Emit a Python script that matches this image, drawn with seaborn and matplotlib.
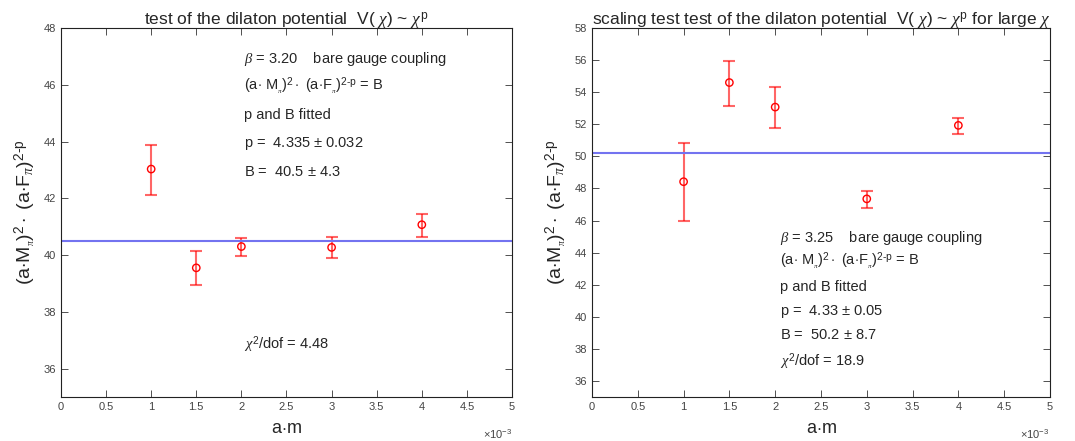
import numpy as np
import pandas as pd
import matplotlib
matplotlib.use("Agg")
import matplotlib.pyplot as plt
import seaborn as sns
from matplotlib.ticker import FuncFormatter, MultipleLocator

# -------------------------------
# DATA
# -------------------------------
am = [0.001, 0.0015, 0.002, 0.003, 0.004]

# beta = 3.20
val_320 = [43.03, 39.55, 40.30, 40.27, 41.07]
lo_320 = [42.12, 38.95, 39.96, 39.88, 40.65]
hi_320 = [43.88, 40.13, 40.60, 40.64, 41.46]
fit_320 = 40.48

# beta = 3.25
val_325 = [48.42, 54.60, 53.07, 47.35, 51.93]
lo_325 = [46.00, 53.15, 51.74, 46.79, 51.38]
hi_325 = [50.84, 55.97, 54.34, 47.83, 52.38]
fit_325 = 50.21

titles = [
    r"test of the dilaton potential  V( $\mathit{\chi}$) ~ $\mathit{\chi}^{\mathrm{p}}$",
    r"scaling test test of the dilaton potential  V( $\mathit{\chi}$) ~ $\mathit{\chi}^{\mathrm{p}}$ for large $\mathit{\chi}$",
]

notes_320 = [
    r"$\mathit{\beta}$ = 3.20    bare gauge coupling",
    r"(a$\cdot$ M$_{_{\pi}}$)$^2\cdot$ (a$\cdot$F$_{_{\pi}}$)$^{2\text{-}\mathrm{p}}$ = B",
    "p and B fitted",
    r"p =  4.335 $\pm$ 0.032",
    r"B =  40.5 $\pm$ 4.3",
]
chi_320 = r"$\mathit{\chi}^2$/dof = 4.48"

notes_325 = [
    r"$\mathit{\beta}$ = 3.25    bare gauge coupling",
    r"(a$\cdot$ M$_{_{\pi}}$)$^2\cdot$ (a$\cdot$F$_{_{\pi}}$)$^{2\text{-}\mathrm{p}}$ = B",
    "p and B fitted",
    r"p =  4.33 $\pm$ 0.05",
    r"B =  50.2 $\pm$ 8.7",
    r"$\mathit{\chi}^2$/dof = 18.9",
]

# -------------------------------
# STYLE
# -------------------------------
sns.set_style("ticks")
plt.rcParams["font.family"] = ["Liberation Sans", "DejaVu Sans"]
plt.rcParams["mathtext.fontset"] = "custom"
plt.rcParams["mathtext.rm"] = "Liberation Sans"
plt.rcParams["mathtext.it"] = "Liberation Serif:italic"
plt.rcParams["mathtext.bf"] = "Liberation Sans:bold"

ylabel = r"(a$\cdot$M$_{_{\pi}}$)$^2\cdot$ (a$\cdot$F$_\pi$)$^{2\text{-}\mathrm{p}}$"

fig = plt.figure(figsize=(10.75, 4.41), dpi=100)
ax1 = fig.add_axes([0.0567, 0.0998, 0.4196, 0.8367])
ax2 = fig.add_axes([0.5507, 0.0998, 0.4260, 0.8367])


def panel(ax, vals, lo, hi, fit, ylim, title):
    df = pd.DataFrame({"am": am, "val": vals, "lo": lo, "hi": hi})
    yerr = [df["val"] - df["lo"], df["hi"] - df["val"]]
    ax.errorbar(df["am"], df["val"], yerr=yerr, fmt="none",
                ecolor=(1, 0, 0, 0.6), elinewidth=1.5, capsize=4, capthick=1.5)
    sns.scatterplot(data=df, x="am", y="val", ax=ax, marker="o", s=28,
                    facecolor="none", edgecolor="red", linewidth=1.0, zorder=3)
    ax.axhline(fit, color="#7373f0", lw=1.5, zorder=2)

    ax.set_xlim(0, 0.005)
    ax.set_ylim(*ylim)
    ax.xaxis.set_major_locator(MultipleLocator(0.0005))
    ax.yaxis.set_major_locator(MultipleLocator(2))
    ax.xaxis.set_major_formatter(FuncFormatter(lambda v, p: f"{v * 1e3:g}"))
    ax.tick_params(direction="in", top=True, right=True, length=5, width=0.6,
                   labelsize=8, labelcolor="#444444", color="#333333")
    for s in ax.spines.values():
        s.set_linewidth(0.8)
        s.set_color("#222222")
    ax.set_title(title, fontsize=12.5, pad=2)
    ax.set_xlabel(r"a$\cdot$m", fontsize=13, labelpad=6)
    ax.set_ylabel(ylabel, fontsize=14, labelpad=4)
    ax.text(1.0, -0.085, r"$\times$10$^{-3}$", transform=ax.transAxes,
            ha="right", va="top", fontsize=8, color="#444444")


panel(ax1, val_320, lo_320, hi_320, fit_320, (35, 48), titles[0])
panel(ax2, val_325, lo_325, hi_325, fit_325, (35, 58), titles[1])

for y, t in zip([46.92, 45.96, 44.95, 43.93, 42.94], notes_320):
    ax1.text(0.00203, y, t, fontsize=10.5, va="center")
ax1.text(0.00203, 36.84, chi_320, fontsize=10.5, va="center")

for y, t in zip([44.89, 43.43, 41.88, 40.32, 38.84, 37.23], notes_325):
    ax2.text(0.00205, y, t, fontsize=10.5, va="center")

fig.savefig("out.png", dpi=100)
